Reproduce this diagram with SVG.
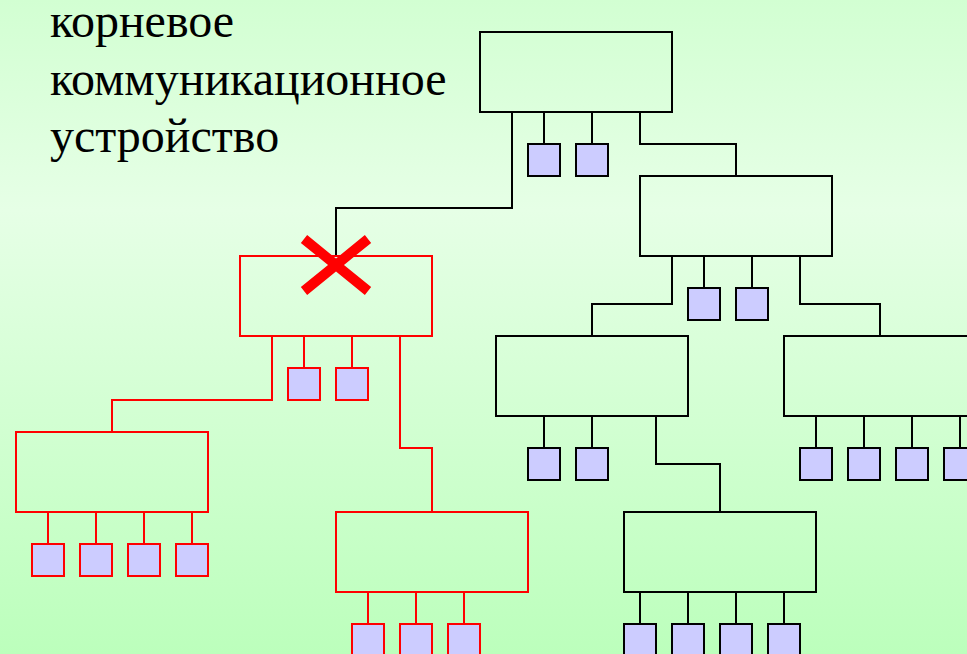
<svg xmlns="http://www.w3.org/2000/svg" width="967" height="654" viewBox="0 0 967 654">
<defs>
<linearGradient id="bg" x1="0" y1="0" x2="0" y2="1">
<stop offset="0" stop-color="#d2ffd2"/>
<stop offset="0.32" stop-color="#e6ffe6"/>
<stop offset="1" stop-color="#bcffbc"/>
</linearGradient>
<style>
.box{fill:none;stroke:#000;stroke-width:2}
.sq{fill:#ccccff;stroke:#000;stroke-width:2}
.rbox{fill:none;stroke:#ff0000;stroke-width:2}
.rsq{fill:#ccccff;stroke:#ff0000;stroke-width:2}
.ln{fill:none;stroke:#000;stroke-width:2}
.rln{fill:none;stroke:#ff0000;stroke-width:2}
.lbl{font-family:"Liberation Serif","Times New Roman",serif;font-size:48px;fill:#000}
</style>
</defs>
<rect x="0" y="0" width="967" height="654" fill="url(#bg)"/>
<text class="lbl" x="50" y="37">корневое</text>
<text class="lbl" x="50" y="95">коммуникационное</text>
<text class="lbl" x="50" y="152">устройство</text>
<g id="connectors">
<path class="ln" d="M512 112 V208 H336 V256"/>
<path class="ln" d="M544 112 V144 M592 112 V144"/>
<path class="ln" d="M640 112 V144 H736 V176"/>
<path class="ln" d="M672 256 V304 H592 V336"/>
<path class="ln" d="M704 256 V288 M752 256 V288"/>
<path class="ln" d="M800 256 V304 H880 V336"/>
<path class="ln" d="M544 416 V448 M592 416 V448"/>
<path class="ln" d="M656 416 V464 H720 V512"/>
<path class="ln" d="M816 416 V448 M864 416 V448 M912 416 V448 M960 416 V448"/>
<path class="ln" d="M640 592 V624 M688 592 V624 M736 592 V624 M784 592 V624"/>
<path class="rln" d="M272 336 V400 H112 V432"/>
<path class="rln" d="M304 336 V368 M352 336 V368"/>
<path class="rln" d="M400 336 V448 H432 V512"/>
<path class="rln" d="M48 512 V544 M96 512 V544 M144 512 V544 M192 512 V544"/>
<path class="rln" d="M368 592 V624 M416 592 V624 M464 592 V624"/>
</g>
<g id="root">
<rect class="box" x="480" y="32" width="192" height="80"/>
<rect class="sq" x="528" y="144" width="32" height="32"/>
<rect class="sq" x="576" y="144" width="32" height="32"/>
</g>
<g id="hub2">
<rect class="box" x="640" y="176" width="192" height="80"/>
<rect class="sq" x="688" y="288" width="32" height="32"/>
<rect class="sq" x="736" y="288" width="32" height="32"/>
</g>
<g id="hub3">
<rect class="box" x="496" y="336" width="192" height="80"/>
<rect class="sq" x="528" y="448" width="32" height="32"/>
<rect class="sq" x="576" y="448" width="32" height="32"/>
</g>
<g id="hub4">
<rect class="box" x="784" y="336" width="192" height="80"/>
<rect class="sq" x="800" y="448" width="32" height="32"/>
<rect class="sq" x="848" y="448" width="32" height="32"/>
<rect class="sq" x="896" y="448" width="32" height="32"/>
<rect class="sq" x="944" y="448" width="32" height="32"/>
</g>
<g id="hub5">
<rect class="box" x="624" y="512" width="192" height="80"/>
<rect class="sq" x="624" y="624" width="32" height="32"/>
<rect class="sq" x="672" y="624" width="32" height="32"/>
<rect class="sq" x="720" y="624" width="32" height="32"/>
<rect class="sq" x="768" y="624" width="32" height="32"/>
</g>
<g id="failed">
<rect class="rbox" x="240" y="256" width="192" height="80"/>
<rect class="rsq" x="288" y="368" width="32" height="32"/>
<rect class="rsq" x="336" y="368" width="32" height="32"/>
<path d="M304 239 L368 291 M368 239 L304 291" stroke="#ff0000" stroke-width="10" fill="none"/>
</g>
<g id="redhub1">
<rect class="rbox" x="16" y="432" width="192" height="80"/>
<rect class="rsq" x="32" y="544" width="32" height="32"/>
<rect class="rsq" x="80" y="544" width="32" height="32"/>
<rect class="rsq" x="128" y="544" width="32" height="32"/>
<rect class="rsq" x="176" y="544" width="32" height="32"/>
</g>
<g id="redhub2">
<rect class="rbox" x="336" y="512" width="192" height="80"/>
<rect class="rsq" x="352" y="624" width="32" height="32"/>
<rect class="rsq" x="400" y="624" width="32" height="32"/>
<rect class="rsq" x="448" y="624" width="32" height="32"/>
</g>
</svg>
